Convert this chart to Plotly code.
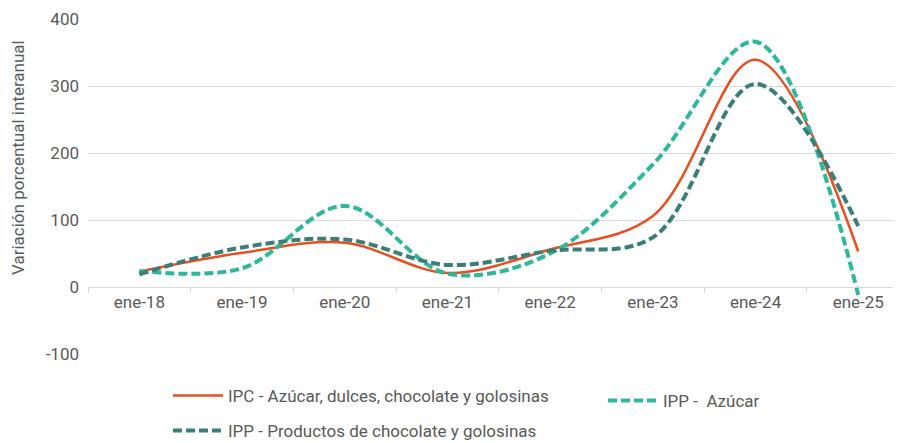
import plotly.graph_objects as go

categories = ["ene-18", "ene-19", "ene-20", "ene-21", "ene-22", "ene-23", "ene-24", "ene-25"]
ipc_azucar_dulces = [23, 51, 66, 21, 56, 106, 339, 53]
ipp_azucar = [24, 28, 121, 20, 50, 183, 366, -12]
ipp_chocolate = [19, 59, 71, 33, 54, 74, 303, 91]
y_ticks = [-100, 0, 100, 200, 300, 400]
y_tick_labels = ["-100", "0", "100", "200", "300", "400"]

FONT = "Roboto, Liberation Sans, Arial, sans-serif"
TXT = "#595959"
GRID = "#d9d9d9"

fig = go.Figure()
fig.add_trace(go.Scatter(
    x=categories, y=ipc_azucar_dulces, mode="lines",
    name="IPC - Azúcar, dulces, chocolate y golosinas",
    line=dict(color="#E84E1F", width=2.5, shape="spline", smoothing=1),
    legend="legend"))
fig.add_trace(go.Scatter(
    x=categories, y=ipp_azucar, mode="lines",
    name="IPP -  Azúcar",
    line=dict(color="#2DB79B", width=4, dash="9px,4px", shape="spline", smoothing=1),
    legend="legend2"))
fig.add_trace(go.Scatter(
    x=categories, y=ipp_chocolate, mode="lines",
    name="IPP - Productos de chocolate y golosinas",
    line=dict(color="#3A7F77", width=4, dash="9px,4px", shape="spline", smoothing=1),
    legend="legend3"))

leg_common = dict(orientation="v", xanchor="left", yanchor="middle",
                  bgcolor="rgba(0,0,0,0)", itemwidth=50,
                  font=dict(family=FONT, size=17, color=TXT))

# page body has an 8px margin: figure is offset by 8px in x and y
fig.update_layout(
    width=893, height=435,
    margin=dict(l=80, r=0, t=11, b=89, autoexpand=False),
    paper_bgcolor="white", plot_bgcolor="white",
    font=dict(family=FONT, size=17, color=TXT),
    showlegend=True,
    legend=dict(x=(168 - 88) / 813, y=(354 - 396) / 335, **leg_common),
    legend2=dict(x=(603 - 88) / 813, y=(354 - 401) / 335, **leg_common),
    legend3=dict(x=(168 - 88) / 813, y=(354 - 431) / 335, **leg_common),
    xaxis=dict(
        type="category", range=[-0.5, 7.416],
        anchor="free", position=0.2,
        showgrid=False, showline=True, linecolor=GRID, linewidth=1,
        ticks="outside", tickson="boundaries", ticklen=5, tickcolor=GRID,
        tickfont=dict(family=FONT, size=17, color=TXT),
        zeroline=False,
    ),
    yaxis=dict(
        range=[-100, 400], tickvals=y_ticks, ticktext=y_tick_labels, domain=[0, 1],
        showgrid=True, gridcolor=GRID, gridwidth=1,
        zeroline=False, showline=False, ticks="",
        ticklabelstandoff=8,
        tickfont=dict(family=FONT, size=17, color=TXT),
    ),
    annotations=[dict(
        text="Variación porcentual interanual", textangle=-90,
        xref="paper", yref="paper", x=(18 - 88) / 813, y=(354 - 158) / 335,
        xanchor="center", yanchor="middle", showarrow=False,
        font=dict(family=FONT, size=17, color=TXT))],
)

fig.write_html("out.html")
